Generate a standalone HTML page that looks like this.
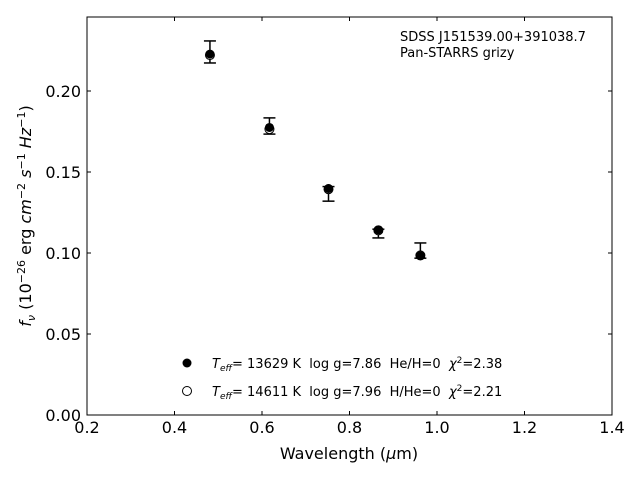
<!DOCTYPE html>
<html><head><meta charset="utf-8"><style>
body{margin:0;background:#fff}
svg{font-family:"DejaVu Sans","Liberation Sans",sans-serif}
text{white-space:pre}
</style></head><body>
<svg id="c" width="640" height="480">
<rect x="87" y="17" width="525" height="398" fill="none" stroke="#000" stroke-width="1"/>
<g id="ticks"></g>
<g id="marks"></g>
<text x="400" y="41" font-size="13">SDSS J151539.00+391038.7</text>
<text x="400" y="57" font-size="13">Pan-STARRS grizy</text>
<text x="349" y="459" font-size="16" text-anchor="middle">Wavelength (<tspan font-style="italic">μ</tspan>m)</text>
<text transform="translate(31,216) rotate(-90)" font-size="16" text-anchor="middle"><tspan font-style="italic">f<tspan font-size="11" dy="4">ν</tspan></tspan><tspan dy="-4"> (10</tspan><tspan font-size="11" dy="-6">−26</tspan><tspan dy="6"> erg </tspan><tspan font-style="italic">cm</tspan><tspan font-size="11" dy="-6">−2</tspan><tspan dy="6"> </tspan><tspan font-style="italic">s</tspan><tspan font-size="11" dy="-6">−1</tspan><tspan dy="6"> </tspan><tspan font-style="italic">Hz</tspan><tspan font-size="11" dy="-6">−1</tspan><tspan dy="6">)</tspan></text>
<g>
<circle cx="187" cy="363" r="4.5" fill="#000"/>
<text x="212" y="368" font-size="13"><tspan font-style="italic">T<tspan font-size="9" dy="3">eff</tspan></tspan><tspan dy="-3">= 13629 K  log g=7.86  He/H=0  </tspan><tspan font-style="italic">χ</tspan><tspan font-size="9" dy="-5">2</tspan><tspan dy="5">=2.38</tspan></text>
<circle cx="187" cy="391" r="4.5" fill="#fff" stroke="#000"/>
<text x="212" y="396" font-size="13"><tspan font-style="italic">T<tspan font-size="9" dy="3">eff</tspan></tspan><tspan dy="-3">= 14611 K  log g=7.96  H/He=0  </tspan><tspan font-style="italic">χ</tspan><tspan font-size="9" dy="-5">2</tspan><tspan dy="5">=2.21</tspan></text>
</g>
</svg>
<script>
const wavelengths=[0.481,0.617,0.752,0.866,0.962];
const observed=[0.2241,0.1784,0.1365,0.1120,0.1015];
const errors=[0.0068,0.0050,0.0045,0.0027,0.0047];
const modelHe=[0.2228,0.1775,0.1398,0.1143,0.0983];
const modelH=[0.2222,0.1765,0.1394,0.1140,0.0985];
const xTicks=[0.2,0.4,0.6,0.8,1.0,1.2,1.4];
const yTicks=[0.00,0.05,0.10,0.15,0.20];
const X=v=>87+(v-0.2)*437.5;
const Y=v=>415-v*1620;
const NS="http://www.w3.org/2000/svg";
function mk(t,a,p){const e=document.createElementNS(NS,t);for(const k in a)e.setAttribute(k,a[k]);p.appendChild(e);return e;}
const T=document.getElementById('ticks'),M=document.getElementById('marks');
xTicks.forEach(v=>{
 const l=mk('line',{x1:X(v),x2:X(v),y1:415,y2:411,stroke:'#000'},T);
 
 
 const l2=mk('line',{x1:X(v),x2:X(v),y1:17,y2:21,stroke:'#000'},T);
 
 
 const t=mk('text',{x:X(v),y:433,'font-size':16,'text-anchor':'middle'},T);t.textContent=v.toFixed(1);
 
 
});
yTicks.forEach(v=>{
 const l=mk('line',{x1:87,x2:91,y1:Y(v),y2:Y(v),stroke:'#000'},T);
 
 
 const l2=mk('line',{x1:608,x2:612,y1:Y(v),y2:Y(v),stroke:'#000'},T);
 
 
 const t=mk('text',{x:81,y:Y(v)+6,'font-size':16,'text-anchor':'end'},T);t.textContent=v.toFixed(2);
 
 
});
wavelengths.forEach((w,i)=>{
 const x=X(w),y1=Y(observed[i]+errors[i]),y2=Y(observed[i]-errors[i]);
 const g=mk('g',{stroke:'#000','stroke-width':1.5},M);
 
 
 mk('line',{x1:x,x2:x,y1:y1,y2:y2},g);
 mk('line',{x1:x-6,x2:x+6,y1:y1,y2:y1},g);
 mk('line',{x1:x-6,x2:x+6,y1:y2,y2:y2},g);
 const o=mk('circle',{cx:x,cy:Y(modelH[i]),r:4.5,fill:'#fff',stroke:'#000'},M);
 
 
 const f=mk('circle',{cx:x,cy:Y(modelHe[i]),r:4.5,fill:'#000'},M);
 
 
});
</script>
</body></html>
